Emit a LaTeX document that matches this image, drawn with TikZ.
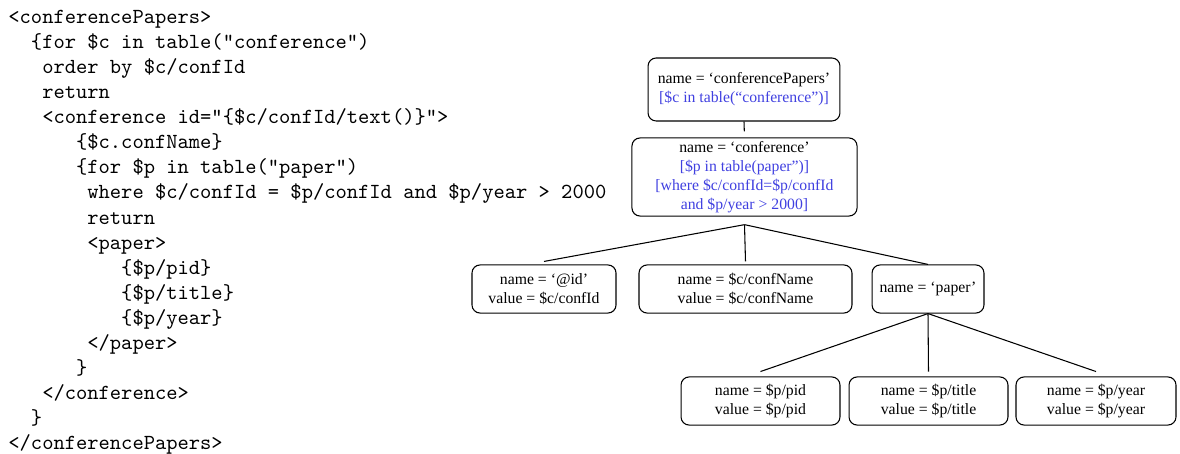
\documentclass[tikz,border=0pt]{standalone}
\usepackage{fontspec}
\newfontfamily\timesfont{Liberation Serif}
\definecolor{qblue}{RGB}{64,64,224}
\newcommand{\codeind}[1]{\hspace*{#1\fontcharwd\font`x}}

\begin{document}
\begin{tikzpicture}[x=0.47pt, y=-0.47pt]
            \tikzstyle{box} = [draw, line width=0.5pt, rounded corners=3.8pt, inner sep=0pt, align=center, font=\timesfont\fontsize{7.4}{8.9}\selectfont]
            \tikzstyle{code} = [inner sep=0pt, align=left, anchor=north west, font=\ttfamily\fontsize{10.1}{11.8}\selectfont]
            \tikzstyle{link} = [line width=0.5pt]
            \useasboundingbox (0, 0) rectangle (1180, 454);
            \node[code] (query) at (8, 9.5) {<conferencePapers>\\
                \codeind{2}\{for \$c in table("conference")\\
                \codeind{3}order by \$c/confId\\
                \codeind{3}return\\
                \codeind{3}<conference id="\{\$c/confId/text()\}">\\
                \codeind{6}\{\$c.confName\}\\
                \codeind{6}\{for \$p in table("paper")\\
                \codeind{7}where \$c/confId = \$p/confId and \$p/year > 2000\\
                \codeind{7}return\\
                \codeind{7}<paper>\\
                \codeind{10}\{\$p/pid\}\\
                \codeind{10}\{\$p/title\}\\
                \codeind{10}\{\$p/year\}\\
                \codeind{7}</paper>\\
                \codeind{6}\}\\
                \codeind{3}</conference>\\
                \codeind{2}\}\\
                </conferencePapers>};
            \node[box, minimum width=90.2pt, minimum height=29.6pt] (top) at (744, 89.5) {name = ‘conferencePapers’\\\textcolor{qblue}{[\$c in table(“conference”)]}};
            \node[box, minimum width=105.8pt, minimum height=36.7pt] (conf) at (744.5, 177) {name = ‘conference’\\\textcolor{qblue}{[\$p in table(paper”)]}\\\textcolor{qblue}{[where \$c/confId=\$p/confId}\\\textcolor{qblue}{and \$p/year > 2000]}};
            \node[box, minimum width=67.7pt, minimum height=22.6pt] (attrid) at (544, 289) {name = ‘@id’\\value = \$c/confId};
            \node[box, minimum width=100.1pt, minimum height=22.6pt] (confname) at (745.5, 289) {name = \$c/confName\\value = \$c/confName};
            \node[box, minimum width=52.6pt, minimum height=22.6pt] (paper) at (928, 289) {name = ‘paper’};
            \node[box, minimum width=74.7pt, minimum height=22.6pt] (pid) at (760.5, 401) {name = \$p/pid\\value = \$p/pid};
            \node[box, minimum width=74.7pt, minimum height=22.6pt] (title) at (928.5, 401) {name = \$p/title\\value = \$p/title};
            \node[box, minimum width=75.2pt, minimum height=22.6pt] (year) at (1096, 401) {name = \$p/year\\value = \$p/year};
            \draw[link, shorten >=2.8pt] (top.south) -- (conf.north);
            \coordinate (cj) at ([yshift=-3.8pt]conf.south);
            \draw[link] (cj) -- ([yshift=1.4pt]attrid.north);
            \draw[link] (cj) -- ([yshift=1.4pt]confname.north);
            \draw[link] (cj) -- (paper.north);
            \draw[link] (paper.south) -- ([yshift=2.3pt]pid.north);
            \draw[link] (paper.south) -- ([yshift=2.3pt]title.north);
            \draw[link] (paper.south) -- ([yshift=2.3pt]year.north);
\end{tikzpicture}
\end{document}
